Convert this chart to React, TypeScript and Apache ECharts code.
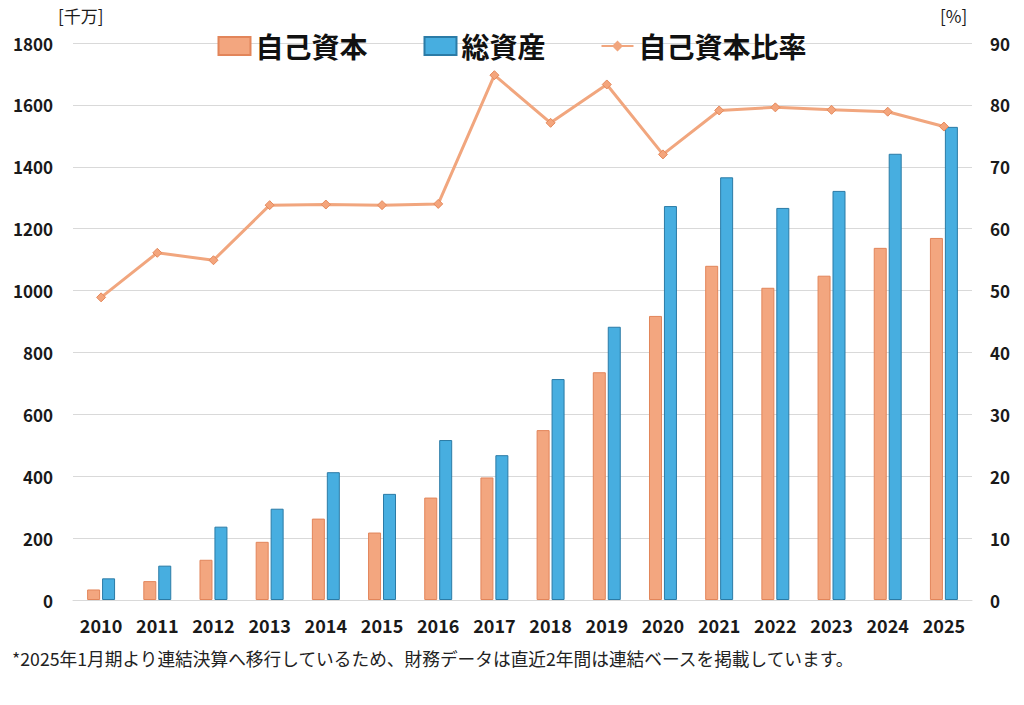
import React, { useEffect, useRef } from "react";
import * as echarts from "echarts";

const categories = ["2010","2011","2012","2013","2014","2015","2016","2017","2018","2019","2020","2021","2022","2023","2024","2025"];
const equity = [34, 61, 130, 188, 263, 218, 331, 396, 549, 736, 918, 1080, 1009, 1048, 1138, 1170];
const totalAssets = [70, 111, 237, 295, 413, 343, 517, 468, 714, 883, 1273, 1366, 1267, 1322, 1442, 1529];
const equityRatio = [48.9, 56.1, 54.9, 63.8, 63.9, 63.8, 64.0, 84.8, 77.1, 83.3, 72.0, 79.1, 79.6, 79.2, 78.9, 76.5];
const leftTicks = { min: 0, max: 1800, interval: 200 };
const rightTicks = { min: 0, max: 90, interval: 10 };
const seriesNames = ["自己資本", "総資産", "自己資本比率"];
const leftUnit = "[千万]";
const rightUnit = "[%]";
const footnote = "*2025年1月期より連結決算へ移行しているため、財務データは直近2年間は連結ベースを掲載しています。";

const FONT = '"Noto Sans CJK JP", "Noto Sans", sans-serif';
const LINE_ICON = "path://M0,0 M32,18 M0,8 L11.5,8 L16,3.5 L20.5,8 L32,8 L32,10 L20.5,10 L16,14.5 L11.5,10 L0,10 Z";

export default function App() {
  const ref = useRef<HTMLDivElement>(null);
  useEffect(() => {
    if (!ref.current) return;
    const chart = echarts.init(ref.current, undefined, { renderer: "svg" });
    chart.setOption({
      animation: false,
      backgroundColor: "#ffffff",
      textStyle: { fontFamily: FONT },
      grid: { left: 73, right: 52, top: 43, bottom: 105, containLabel: false },
      legend: {
        top: 27,
        left: "center",
        itemWidth: 32,
        itemHeight: 18,
        itemGap: 56,
        textStyle: { fontSize: 28, fontWeight: "bold", color: "#111", fontFamily: FONT },
        data: [
          { name: seriesNames[0], icon: "rect" },
          { name: seriesNames[1], icon: "rect" },
          { name: seriesNames[2], icon: LINE_ICON, itemStyle: { color: "#F1A67E", borderWidth: 0 } },
        ],
      },
      xAxis: {
        type: "category",
        data: categories,
        axisLine: { show: true, lineStyle: { color: "#d9d9d9", width: 1 } },
        axisTick: { show: false },
        axisLabel: { fontSize: 18, fontWeight: "bold", color: "#1a1a1a", margin: 16, fontFamily: FONT },
      },
      yAxis: [
        {
          type: "value",
          min: leftTicks.min,
          max: leftTicks.max,
          interval: leftTicks.interval,
          axisLine: { show: false },
          axisTick: { show: false },
          splitLine: { lineStyle: { color: "#d9d9d9", width: 1 } },
          axisLabel: { fontSize: 17, fontWeight: "bold", color: "#1a1a1a", margin: 20, fontFamily: FONT, formatter: (v: number) => String(v) },
        },
        {
          type: "value",
          min: rightTicks.min,
          max: rightTicks.max,
          interval: rightTicks.interval,
          axisLine: { show: false },
          axisTick: { show: false },
          splitLine: { show: false },
          axisLabel: { fontSize: 17, fontWeight: "bold", color: "#1a1a1a", margin: 18, fontFamily: FONT, formatter: (v: number) => String(v) },
        },
      ],
      series: [
        {
          name: seriesNames[0],
          type: "bar",
          data: equity,
          barWidth: 13,
          barGap: "15%",
          itemStyle: { color: "#F3A67F", borderColor: "#E2855A", borderWidth: 1 },
        },
        {
          name: seriesNames[1],
          type: "bar",
          data: totalAssets,
          barWidth: 13,
          barGap: "15%",
          itemStyle: { color: "#47AEE0", borderColor: "#2B7BA6", borderWidth: 1 },
        },
        {
          name: seriesNames[2],
          type: "line",
          yAxisIndex: 1,
          data: equityRatio,
          symbol: "diamond",
          symbolSize: 9,
          lineStyle: { color: "#F1A67E", width: 3 },
          itemStyle: { color: "#F4A57C", borderColor: "#E5895C", borderWidth: 1 },
        },
      ],
      graphic: [
        { type: "text", left: 58, top: 7, style: { text: leftUnit, fontSize: 17, fill: "#1a1a1a", fontFamily: FONT } },
        { type: "text", left: 940, top: 7, style: { text: rightUnit, fontSize: 17, fill: "#1a1a1a", fontFamily: FONT } },
        { type: "text", left: 12, top: 649, style: { text: footnote, fontSize: 17.7, fill: "#222", fontFamily: FONT } },
      ],
    });
    return () => chart.dispose();
  }, []);
  return <div ref={ref} style={{ position: "fixed", left: 0, top: 0, width: 1024, height: 705 }} />;
}
